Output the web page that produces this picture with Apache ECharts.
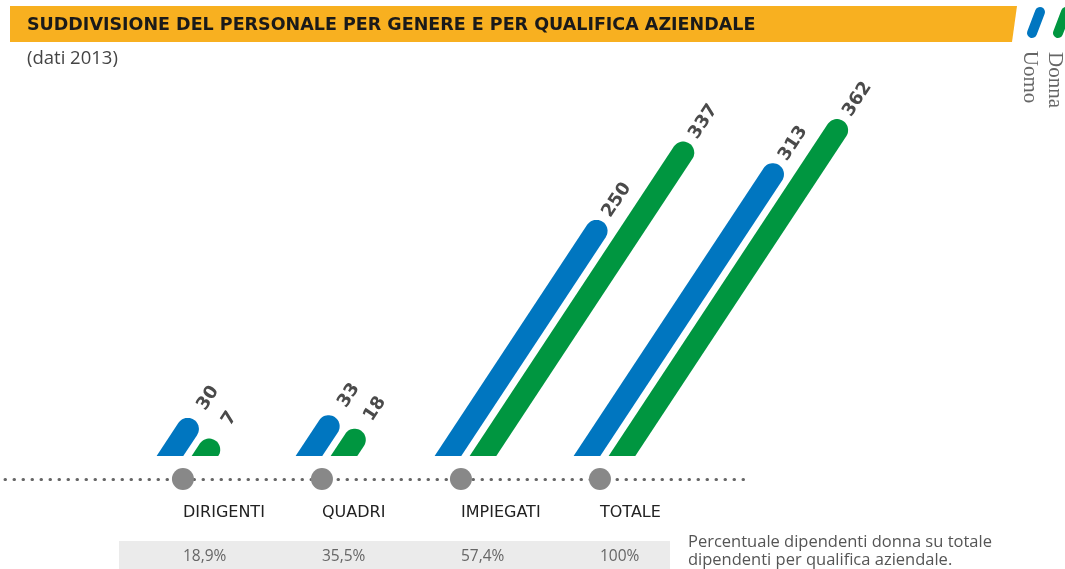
<!DOCTYPE html>
<html>
<head>
<meta charset="utf-8">
<title>Suddivisione del personale per genere e qualifica</title>
<script src="https://cdn.jsdelivr.net/npm/echarts@6/dist/echarts.min.js"></script>
<style>
  html, body { margin: 0; padding: 0; background: #fff; }
  #chart { width: 1065px; height: 569px; }
</style>
</head>
<body>
<div id="chart"></div>
<script>
// dati 2013
const categories = ['DIRIGENTI', 'QUADRI', 'IMPIEGATI', 'TOTALE'];
const uomo = [30, 33, 250, 313];
const donna = [7, 18, 337, 362];
const percentualeDonna = ['18,9%', '35,5%', '57,4%', '100%'];

const BLU = '#0076c0';
const VERDE = '#009640';
const FONT = '"Open Sans", "Noto Sans", sans-serif';
const WIDE = '"DejaVu Sans", "Open Sans", sans-serif';
const SLOPE = 0.66; // inclinazione delle barre (px orizzontali per px verticale)

// taglia il poligono sotto la linea di base
function clipBelow(pts, yLim) {
  const out = [];
  for (let k = 0; k < pts.length; k++) {
    const p = pts[(k + pts.length - 1) % pts.length];
    const q = pts[k];
    const pin = p[1] <= yLim, qin = q[1] <= yLim;
    if (pin !== qin) {
      const t = (yLim - p[1]) / (q[1] - p[1]);
      out.push([p[0] + t * (q[0] - p[0]), yLim]);
    }
    if (qin) out.push(q);
  }
  return out;
}

// barra obliqua con estremità arrotondata
function barraObliqua(offsetFrac, color) {
  return function (params, api) {
    const i = api.value(0), v = api.value(1);
    const band = api.size([1, 0])[0];
    const base = api.coord([i, 0]);
    const top = api.coord([i, v]);
    const r = band * 0.08;
    const h = base[1] - top[1];
    const bx = base[0] + band * offsetFrac, by = base[1];
    const tx = bx + SLOPE * h, ty = top[1];
    const len = Math.sqrt(SLOPE * SLOPE + 1);
    const ux = SLOPE / len, uy = -1 / len;
    const nx = 1 / len, ny = SLOPE / len;
    const sx = bx - ux * r * 3, sy = by - uy * r * 3;
    const pts = [[sx + nx * r, sy + ny * r]];
    for (let k = 0; k <= 24; k++) {
      const a = Math.PI * k / 24;
      const c = Math.cos(a), s = Math.sin(a);
      pts.push([tx + r * (c * nx + s * ux), ty + r * (c * ny + s * uy)]);
    }
    pts.push([sx - nx * r, sy - ny * r]);
    return {
      type: 'group',
      children: [
        { type: 'polygon', shape: { points: clipBelow(pts, by) }, style: { fill: color } },
        {
          type: 'text',
          x: tx + ux * 37, y: ty + uy * 37,
          rotation: Math.atan2(1, SLOPE),
          style: {
            text: String(v), x: 0, y: 0, align: 'center', verticalAlign: 'middle',
            font: 'bold 18px ' + WIDE, fill: '#4a4a4a'
          }
        }
      ]
    };
  };
}

const chart = echarts.init(document.getElementById('chart'));
const option = {
  animation: false,
  title: {
    text: 'SUDDIVISIONE DEL PERSONALE PER GENERE E PER QUALIFICA AZIENDALE',
    subtext: '(dati 2013)',
    left: 27, top: 15, padding: 0, itemGap: 14,
    textStyle: { fontFamily: WIDE, fontSize: 17.5, fontWeight: 'bold', color: '#1a1a1a', lineHeight: 20 },
    subtextStyle: { fontFamily: FONT, fontSize: 18.5, color: '#444', lineHeight: 20 }
  },
  grid: [
    { left: 113.5, width: 556, top: 6, bottom: 113 },
    { left: 5, width: 743, top: 468, height: 22 }
  ],
  xAxis: [
    {
      type: 'category', gridIndex: 0, data: categories,
      axisLine: { show: false }, axisTick: { show: false },
      axisLabel: {
        margin: 41, align: 'left', interval: 0,
        formatter: (val, idx) => '{n|' + val + '}\n{p|' + percentualeDonna[idx] + '}',
        rich: {
          n: { fontFamily: WIDE, fontSize: 16, color: '#222', lineHeight: 32 },
          p: { fontFamily: FONT, fontSize: 15.5, color: '#666', lineHeight: 56 }
        }
      }
    },
    {
      type: 'value', gridIndex: 1, min: -1.28, max: 4.065,
      axisLine: { show: true, onZero: true, lineStyle: { color: '#666', width: 3, cap: 'round', type: [0.5, 8.5] } },
      axisTick: { show: false }, axisLabel: { show: false }, splitLine: { show: false }
    }
  ],
  yAxis: [
    { type: 'value', gridIndex: 0, min: 0, max: 500, show: false },
    { type: 'value', gridIndex: 1, min: -1, max: 1, show: false }
  ],
  graphic: [
    { type: 'polygon', z: -1, shape: { points: [[10, 6], [1017, 6], [1012, 42], [10, 42]] }, style: { fill: '#f8b020' } },
    { type: 'line', shape: { x1: 1032, y1: 33, x2: 1040, y2: 12 }, style: { stroke: BLU, lineWidth: 10, lineCap: 'round' } },
    { type: 'line', shape: { x1: 1058, y1: 33, x2: 1066, y2: 12 }, style: { stroke: VERDE, lineWidth: 10, lineCap: 'round' } },
    { type: 'text', x: 1030, y: 77, rotation: -Math.PI / 2, style: { text: 'Uomo', x: 0, y: 0, align: 'center', verticalAlign: 'middle', font: '21px "Liberation Serif", "DejaVu Serif", serif', fill: '#666' } },
    { type: 'text', x: 1055, y: 80, rotation: -Math.PI / 2, style: { text: 'Donna', x: 0, y: 0, align: 'center', verticalAlign: 'middle', font: '21px "Liberation Serif", "DejaVu Serif", serif', fill: '#666' } },
    { type: 'rect', z: -1, shape: { x: 119, y: 541, width: 551, height: 28 }, style: { fill: '#ebebeb' } },
    { type: 'text', x: 688, y: 533, style: { text: 'Percentuale dipendenti donna su totale\ndipendenti per qualifica aziendale.', font: '16.5px ' + FONT, fill: '#555', lineHeight: 18 } }
  ],
  series: [
    {
      name: 'Uomo', type: 'custom', xAxisIndex: 0, yAxisIndex: 0,
      renderItem: barraObliqua(-0.094, BLU),
      encode: { x: 0, y: 1 },
      data: uomo.map((v, i) => [i, v])
    },
    {
      name: 'Donna', type: 'custom', xAxisIndex: 0, yAxisIndex: 0,
      renderItem: barraObliqua(0.158, VERDE),
      encode: { x: 0, y: 1 },
      data: donna.map((v, i) => [i, v])
    },
    {
      name: 'qualifica', type: 'scatter', xAxisIndex: 1, yAxisIndex: 1,
      symbolSize: 22, itemStyle: { color: '#888', opacity: 1 },
      data: categories.map((c, i) => [i, 0]),
      silent: true, z: 5
    }
  ]
};
chart.setOption(option);
</script>
</body>
</html>
